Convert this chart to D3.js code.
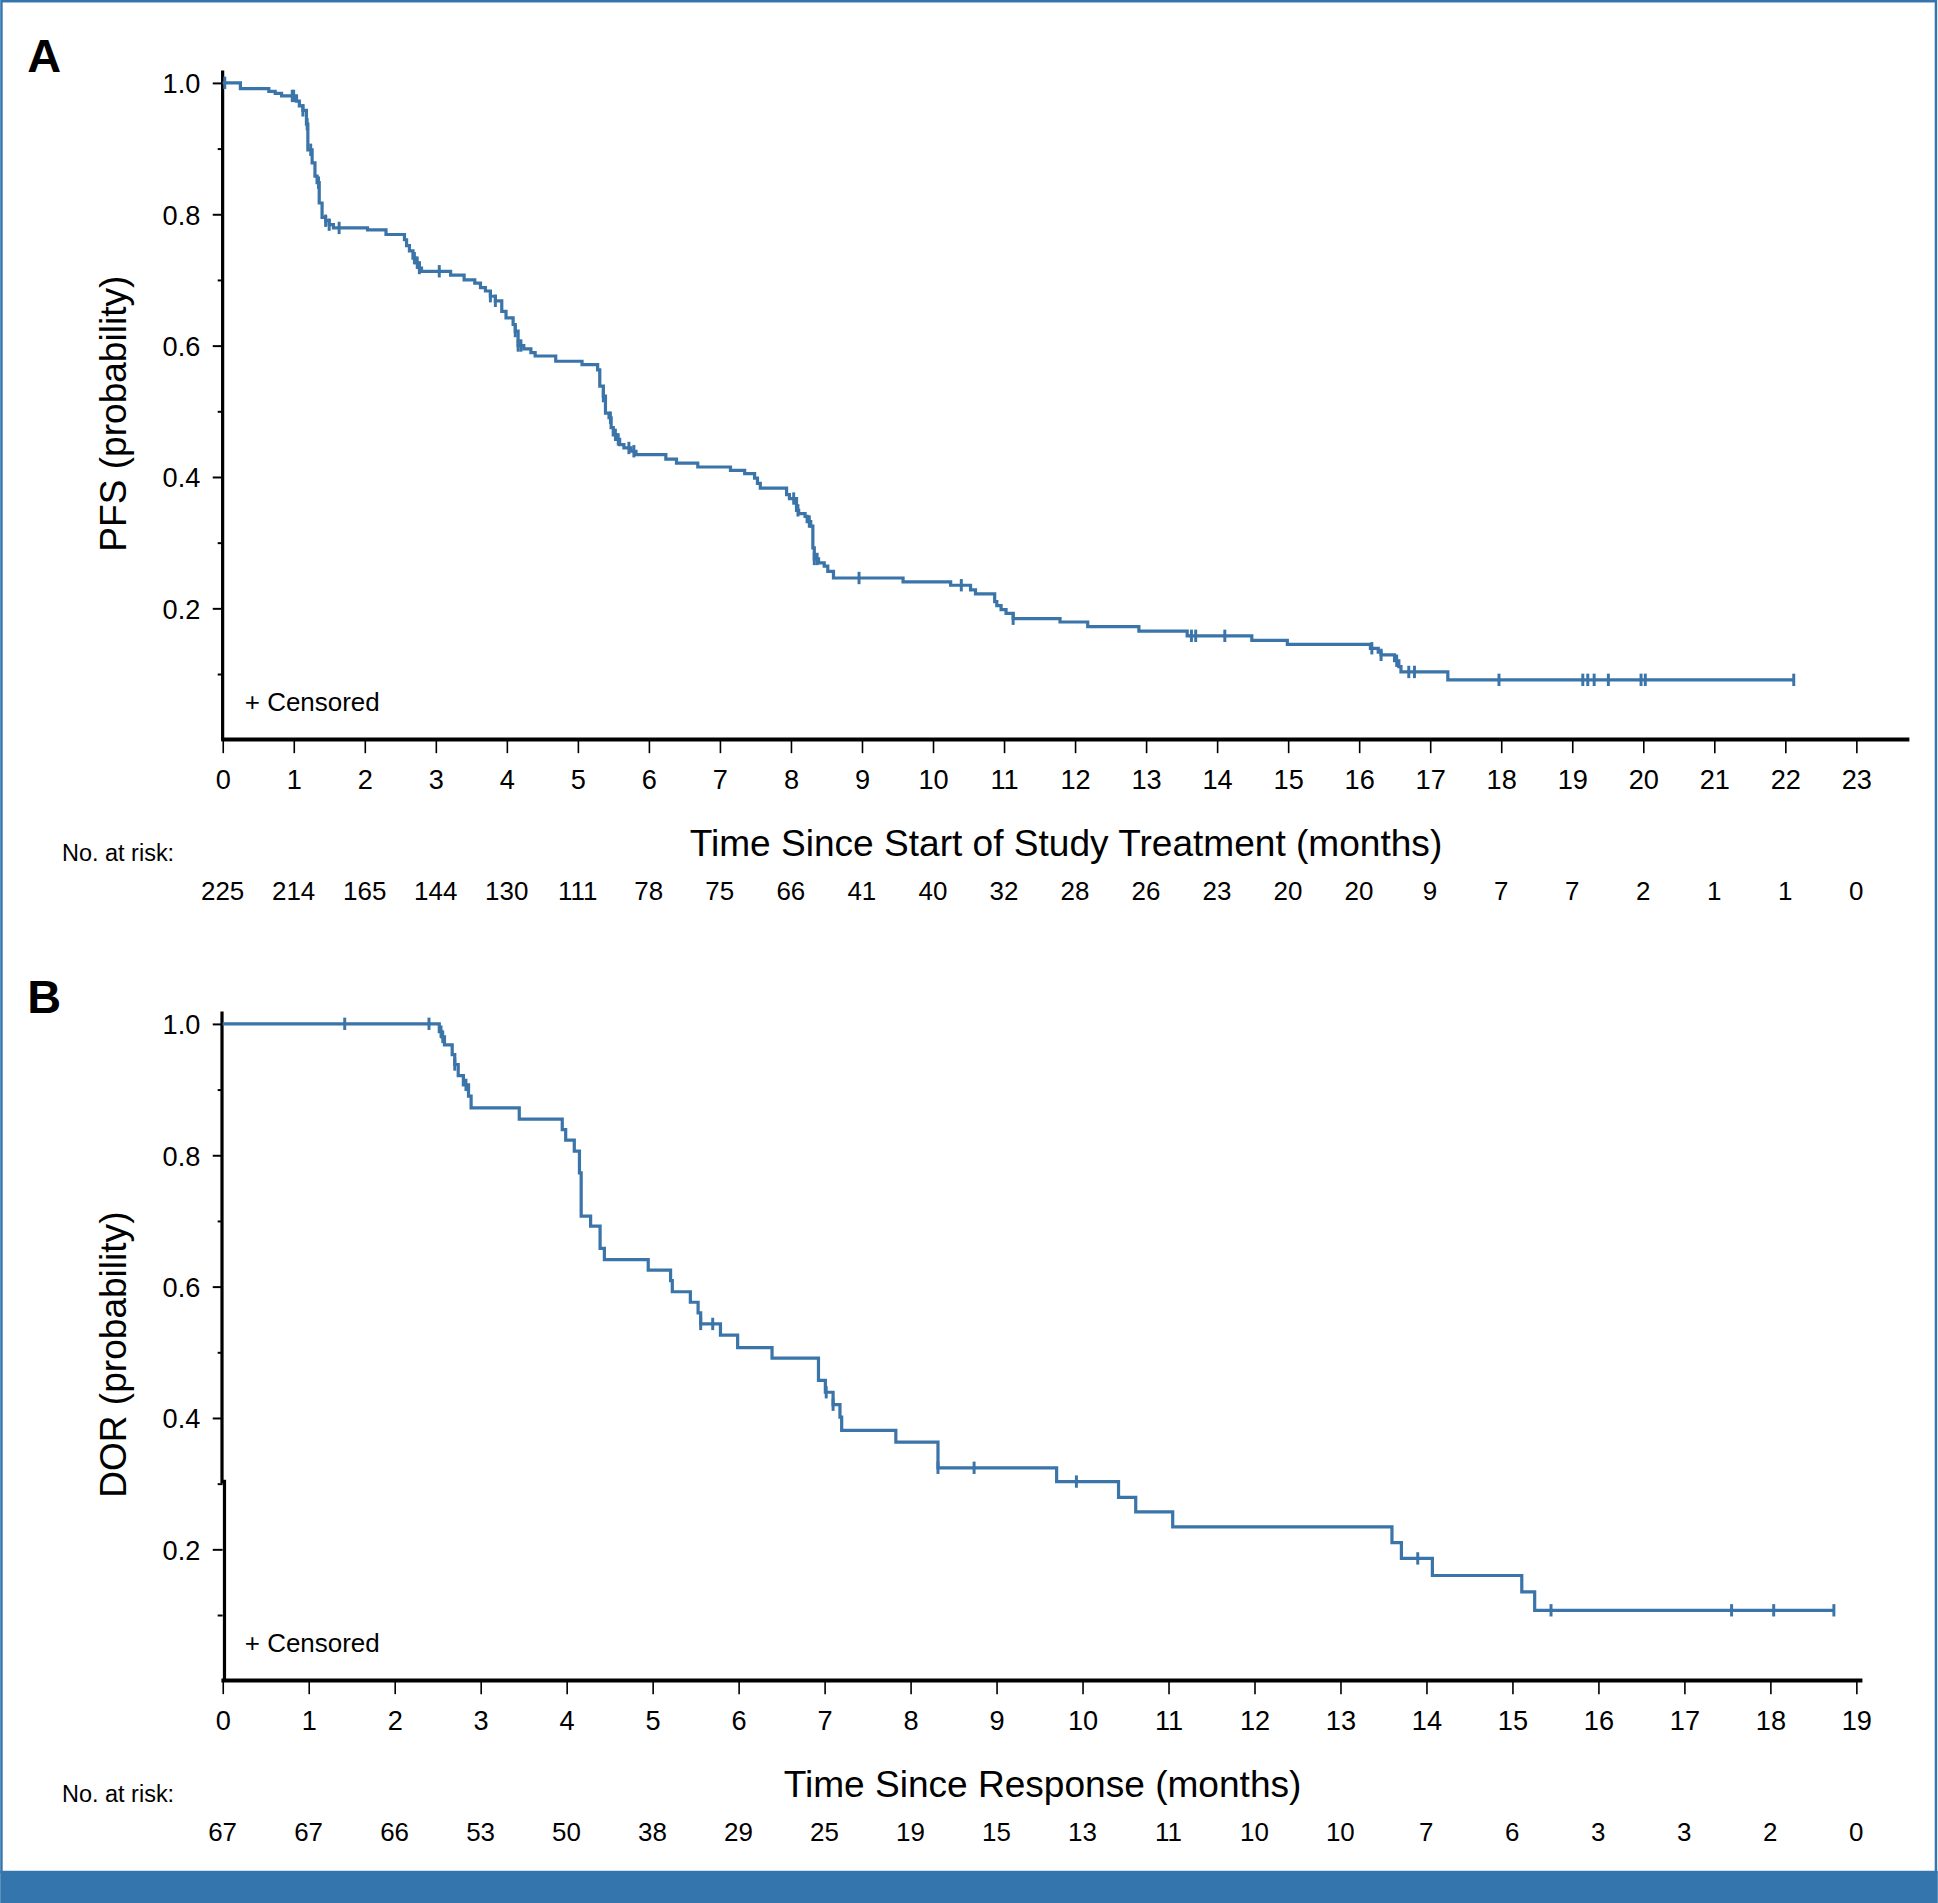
<!DOCTYPE html>
<html>
<head>
<meta charset="utf-8">
<script src="https://cdn.jsdelivr.net/npm/d3@7"></script>
<style>
  html, body { margin: 0; padding: 0; background: #fff; }
  svg text { font-family: "Liberation Sans", Arial, Helvetica, sans-serif; fill: #000; }
</style>
</head>
<body>
<div id="chart"></div>
<script>
// Panel A: progression-free survival (months since start of treatment)
const pfsTimes = [0.25, 0.65, 0.74, 0.83, 1.04, 1.08, 1.13, 1.18, 1.20, 1.26, 1.30, 1.33, 1.36, 1.40, 1.45, 1.50, 1.56,
    2.04, 2.30, 2.56, 2.59, 2.63, 2.68, 2.72, 2.77, 2.80, 3.21, 3.40, 3.55, 3.63, 3.70, 3.77, 3.84, 3.93, 3.99,
    4.09, 4.12, 4.16, 4.24, 4.34, 4.40, 4.69, 5.06, 5.28, 5.31, 5.36, 5.39, 5.44, 5.47, 5.50, 5.55, 5.59, 5.65,
    5.75, 5.82, 6.24, 6.39, 6.69, 7.15, 7.35, 7.49, 7.53, 7.57, 7.94, 7.98, 8.08, 8.11, 8.20, 8.23, 8.28, 8.31,
    8.33, 8.39, 8.47, 8.52, 8.60, 9.58, 10.25, 10.53, 10.60, 10.87, 10.90, 10.96, 11.03, 11.13, 11.79, 12.18,
    12.90, 13.58, 14.49, 14.99, 16.16, 16.27, 16.31, 16.50, 16.56, 16.59, 17.25];
const pfsSurv = [0.991, 0.987, 0.984, 0.980, 0.972, 0.965, 0.958, 0.937, 0.898, 0.878, 0.858, 0.848, 0.817, 0.795, 0.790, 0.784, 0.779,
    0.776, 0.769, 0.761, 0.752, 0.744, 0.733, 0.726, 0.718, 0.713, 0.707, 0.700, 0.695, 0.688, 0.683, 0.675, 0.668, 0.652, 0.642,
    0.632, 0.622, 0.600, 0.595, 0.589, 0.584, 0.576, 0.571, 0.563, 0.538, 0.523, 0.497, 0.490, 0.475, 0.464, 0.457, 0.449, 0.444,
    0.439, 0.434, 0.427, 0.421, 0.415, 0.410, 0.405, 0.398, 0.390, 0.383, 0.373, 0.367, 0.349, 0.344, 0.340, 0.332, 0.325, 0.292,
    0.275, 0.269, 0.264, 0.256, 0.246, 0.240, 0.235, 0.228, 0.222, 0.210, 0.204, 0.198, 0.192, 0.184, 0.179, 0.172,
    0.165, 0.158, 0.151, 0.145, 0.139, 0.133, 0.129, 0.120, 0.111, 0.103, 0.091];
const pfsCensored = [0.03, 0.98, 1.00, 1.13, 1.19, 1.24, 1.35, 1.45, 1.50, 1.64, 2.70, 2.74, 2.77, 3.05, 3.77, 3.84,
    4.12, 4.16, 4.20, 5.36, 5.46, 5.53, 5.57, 5.72, 5.79, 8.04, 8.10, 8.26, 8.33, 8.37, 8.96, 10.40, 11.13,
    13.64, 13.70, 14.11, 16.18, 16.31, 16.53, 16.70, 16.78, 17.97, 19.15, 19.22, 19.31, 19.51, 19.97, 20.03, 22.12];
const pfsTicks = d3.range(0, 24);
const pfsAtRisk = [225, 214, 165, 144, 130, 111, 78, 75, 66, 41, 40, 32, 28, 26, 23, 20, 20, 9, 7, 7, 2, 1, 1, 0];

// Panel B: duration of response (months since response)
const dorTimes = [2.52, 2.55, 2.58, 2.67, 2.70, 2.74, 2.80, 2.86, 2.89, 3.45, 3.95, 3.99, 4.09, 4.15, 4.17, 4.28,
    4.39, 4.44, 4.95, 5.21, 5.23, 5.44, 5.53, 5.56, 5.79, 5.99, 6.39, 6.93, 7.01, 7.10, 7.18, 7.20, 7.83, 8.32,
    9.70, 10.42, 10.62, 11.05, 13.60, 13.71, 14.07, 15.11, 15.26];
const dorSurv = [0.988, 0.980, 0.968, 0.953, 0.938, 0.921, 0.907, 0.890, 0.872, 0.855, 0.839, 0.823, 0.806, 0.773, 0.707, 0.692,
    0.658, 0.641, 0.625, 0.609, 0.592, 0.576, 0.560, 0.543, 0.526, 0.507, 0.491, 0.457, 0.439, 0.420, 0.401, 0.381, 0.363, 0.324,
    0.303, 0.279, 0.257, 0.234, 0.210, 0.186, 0.160, 0.135, 0.107];
const dorCensored = [1.42, 2.40, 2.54, 2.56, 2.70, 2.83, 5.56, 5.70, 7.02, 7.10, 8.32, 8.74, 9.93, 13.90, 15.45, 17.55, 18.04, 18.74];
const dorTicks = d3.range(0, 20);
const dorAtRisk = [67, 67, 66, 53, 50, 38, 29, 25, 19, 15, 13, 11, 10, 10, 7, 6, 3, 3, 2, 0];

const yMajor = [0.2, 0.4, 0.6, 0.8, 1.0];
const yMinor = [0.1, 0.3, 0.5, 0.7, 0.9];

const curveColor = "#3a74a8";
const frameColor = "#3575ae";

// drawn in a 1568x1540 coordinate space, scaled up to the window
const W = 1568, H = 1540;
const svg = d3.select("#chart").append("svg")
    .attr("width", 1938)
    .attr("height", 1903)
    .attr("viewBox", `0 0 ${W} ${H}`);

svg.append("rect").attr("width", W).attr("height", H).attr("fill", "#fff");

// blue frame
svg.append("rect")
    .attr("x", 1).attr("y", 1).attr("width", W - 2.5).attr("height", 1514)
    .attr("fill", "none").attr("stroke", frameColor).attr("stroke-width", 2);
svg.append("rect")
    .attr("x", 0).attr("y", 1514).attr("width", W).attr("height", H - 1514)
    .attr("fill", frameColor);

const drawPanel = (p) => {
    const g = svg.append("g");

    const x = d3.scaleLinear().domain([0, p.ticks[p.ticks.length - 1]]).range([180, 1502]);
    const y = d3.scaleLinear().domain([0, 1]).range([p.y0, p.y0 - 531.5]);

    // panel letter
    g.append("text")
        .attr("x", 22).attr("y", y(1) - 9)
        .style("font-size", "38px").style("font-weight", "bold")
        .text(p.letter);

    // y axis
    const yAxis = g.append("g")
        .attr("transform", "translate(180,0)")
        .call(d3.axisLeft(y).tickValues(yMajor).tickFormat(d3.format(".1f")).tickSize(8).tickPadding(10).tickSizeOuter(0));
    yAxis.select(".domain").remove();
    yAxis.selectAll(".tick line").attr("stroke-width", 1.6);
    yAxis.selectAll(".tick text").style("font-size", "22px").attr("dy", "0.36em");

    const yMinorAxis = g.append("g")
        .attr("transform", "translate(180,0)")
        .call(d3.axisLeft(y).tickValues(yMinor).tickSize(4).tickFormat("").tickSizeOuter(0));
    yMinorAxis.select(".domain").remove();
    yMinorAxis.selectAll(".tick line").attr("stroke-width", 1.6);

    // axis line, optionally with the small kink seen in panel B
    const brk = p.axisBreak;
    if (brk == null) {
        g.append("line")
            .attr("x1", 180).attr("x2", 180)
            .attr("y1", y(1) - 10).attr("y2", y(0) + 1)
            .attr("stroke", "#000").attr("stroke-width", 2.6);
    } else {
        g.append("line")
            .attr("x1", 179.5).attr("x2", 179.5)
            .attr("y1", y(1) - 10).attr("y2", y(brk))
            .attr("stroke", "#000").attr("stroke-width", 2.6);
        g.append("line")
            .attr("x1", 181.5).attr("x2", 181.5)
            .attr("y1", y(brk) - 3).attr("y2", y(0) + 1)
            .attr("stroke", "#000").attr("stroke-width", 2.6);
    }

    g.append("text")
        .attr("transform", `translate(102,${y(0.5) + 2}) rotate(-90)`)
        .attr("text-anchor", "middle")
        .style("font-size", "30px")
        .text(p.yTitle);

    // x axis
    const xAxis = g.append("g")
        .attr("transform", `translate(0,${y(0)})`)
        .call(d3.axisBottom(x).tickValues(p.ticks).tickFormat(d3.format("d")).tickSize(11).tickPadding(13).tickSizeOuter(0));
    xAxis.select(".domain").remove();
    xAxis.selectAll(".tick line").attr("stroke-width", 1.3);
    xAxis.selectAll(".tick text").style("font-size", "22px");

    g.append("line")
        .attr("x1", 179).attr("x2", p.axisEnd)
        .attr("y1", y(0)).attr("y2", y(0))
        .attr("stroke", "#000").attr("stroke-width", 3.2);

    g.append("text")
        .attr("x", (180 + p.axisEnd) / 2).attr("y", y(0) + 94)
        .attr("text-anchor", "middle")
        .style("font-size", "30px")
        .text(p.xTitle);

    // number at risk
    g.append("text")
        .attr("x", 50).attr("y", y(0) + 98)
        .style("font-size", "19px")
        .text("No. at risk:");

    g.selectAll(".risk")
        .data(p.atRisk)
        .join("text")
        .attr("class", "risk")
        .attr("x", (d, i) => x(p.ticks[i]))
        .attr("y", y(0) + 130)
        .attr("text-anchor", "middle")
        .style("font-size", "21px")
        .text(d => d);

    // KM step curve
    const steps = [[0, 1]].concat(p.times.map((t, i) => [t, p.surv[i]]));
    const lastT = d3.max(p.censored);
    steps.push([lastT, p.surv[p.surv.length - 1]]);

    const line = d3.line()
        .x(d => x(d[0]))
        .y(d => y(d[1]))
        .curve(d3.curveStepAfter);

    g.append("path")
        .datum(steps)
        .attr("d", line)
        .attr("fill", "none")
        .attr("stroke", curveColor)
        .attr("stroke-width", 2.6);

    const survAt = (t) => {
        let s = 1;
        p.times.forEach((tt, i) => { if (tt <= t) s = p.surv[i]; });
        return s;
    };

    g.selectAll(".cens")
        .data(p.censored)
        .join("line")
        .attr("class", "cens")
        .attr("x1", d => x(d)).attr("x2", d => x(d))
        .attr("y1", d => y(survAt(d)) - 5)
        .attr("y2", d => y(survAt(d)) + 5)
        .attr("stroke", curveColor)
        .attr("stroke-width", 2.4);

    // legend
    g.append("text")
        .attr("x", 198).attr("y", y(0) - 23)
        .style("font-size", "21px")
        .text("+ Censored");
};

drawPanel({
    letter: "A",
    y0: 598.5,
    axisEnd: 1545,
    ticks: pfsTicks,
    atRisk: pfsAtRisk,
    times: pfsTimes,
    surv: pfsSurv,
    censored: pfsCensored,
    yTitle: "PFS (probability)",
    xTitle: "Time Since Start of Study Treatment (months)"
});

drawPanel({
    letter: "B",
    y0: 1360,
    axisEnd: 1507,
    axisBreak: 0.3,
    ticks: dorTicks,
    atRisk: dorAtRisk,
    times: dorTimes,
    surv: dorSurv,
    censored: dorCensored,
    yTitle: "DOR (probability)",
    xTitle: "Time Since Response (months)"
});
</script>
</body>
</html>
